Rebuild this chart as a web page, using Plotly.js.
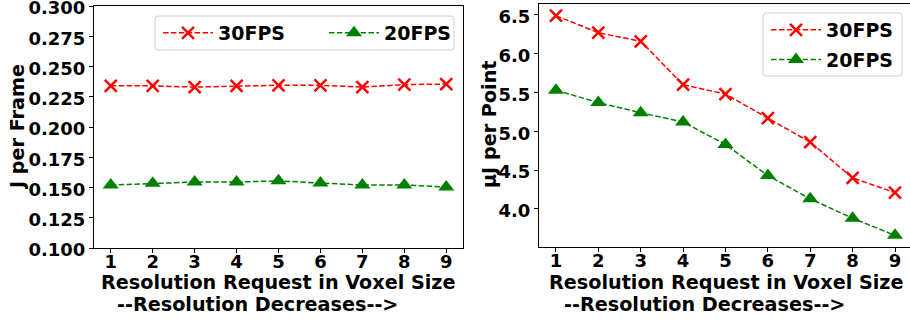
<!DOCTYPE html>
<html>
<head>
<meta charset="utf-8">
<script src="https://cdn.plot.ly/plotly-3.0.1.min.js"></script>
<style>html,body{margin:0;padding:0;background:#fff;}#chart{width:910px;height:321px;}</style>
</head>
<body>
<div id="chart"></div>
<script>
const resolution = [1, 2, 3, 4, 5, 6, 7, 8, 9];
const jPerFrame30 = [0.234, 0.234, 0.233, 0.234, 0.2345, 0.2345, 0.233, 0.235, 0.2355];
const jPerFrame20 = [0.152, 0.1535, 0.1545, 0.1545, 0.1555, 0.1537, 0.152, 0.152, 0.1505];
const ujPerPoint30 = [6.49, 6.27, 6.16, 5.60, 5.48, 5.17, 4.86, 4.40, 4.21];
const ujPerPoint20 = [5.53, 5.37, 5.24, 5.12, 4.83, 4.43, 4.13, 3.88, 3.66];
const seriesNames = ['30FPS', '20FPS'];
const xTitle1 = 'Resolution Request in Voxel Size';
const xTitle2 = '--Resolution Decreases-->';
const yTitleLeft = 'J per Frame';
const yTitleRight = 'μJ per Point';

const W = 910, H = 321;
const FONT = {family: 'DejaVu Sans', size: 18, weight: 'bold', color: 'black'};
const TFONT = {family: 'DejaVu Sans', size: 19.2, weight: 'bold', color: 'black'};
const LFONT = {family: 'DejaVu Sans', size: 19, weight: 'bold', color: 'black'};
const redStyle = {
  mode: 'lines+markers',
  line: {color: 'red', width: 1.5, dash: '5.5px,2.4px'},
  marker: {symbol: 'x-thin-open', size: 12, color: 'red', line: {color: 'red', width: 2.5}}
};
const greenStyle = {
  mode: 'lines+markers',
  line: {color: 'green', width: 1.5, dash: '5.5px,2.4px'},
  marker: {symbol: 'triangle-up', size: 14, color: 'green'}
};

const traces = [
  Object.assign({x: resolution, y: jPerFrame30, name: seriesNames[0], xaxis: 'x', yaxis: 'y', legend: 'legend'}, redStyle),
  Object.assign({x: resolution, y: jPerFrame20, name: seriesNames[1], xaxis: 'x', yaxis: 'y', legend: 'legend'}, greenStyle),
  Object.assign({x: resolution, y: ujPerPoint30, name: seriesNames[0], xaxis: 'x2', yaxis: 'y2', legend: 'legend2', legendgroup: 'r30'}, redStyle),
  Object.assign({x: resolution, y: ujPerPoint20, name: seriesNames[1], xaxis: 'x2', yaxis: 'y2', legend: 'legend2', legendgroup: 'r20'}, greenStyle)
];

function px(x) { return x / W; }
function py(y) { return 1 - y / H; }

const axisCommon = {
  showgrid: false, zeroline: false, showline: true, linecolor: 'black', linewidth: 1,
  ticks: 'outside', ticklen: 4, tickwidth: 1, tickcolor: 'black', tickfont: FONT,
  ticklabeloverflow: 'allow'
};

function ann(text, x, y, angle) {
  return {text: text, xref: 'paper', yref: 'paper', x: px(x), y: py(y), xanchor: 'center', yanchor: 'middle',
    showarrow: false, font: TFONT, textangle: angle || 0};
}
function roundRect(x0, y0, x1, y1, r) {
  const X0 = px(x0), X1 = px(x1), Y0 = py(y0), Y1 = py(y1);
  const rx = r / W, ry = r / H;
  const d = `M${X0 + rx},${Y0} L${X1 - rx},${Y0} Q${X1},${Y0} ${X1},${Y0 - ry} L${X1},${Y1 + ry} Q${X1},${Y1} ${X1 - rx},${Y1} ` +
            `L${X0 + rx},${Y1} Q${X0},${Y1} ${X0},${Y1 + ry} L${X0},${Y0 - ry} Q${X0},${Y0} ${X0 + rx},${Y0} Z`;
  return {type: 'path', xref: 'paper', yref: 'paper', path: d, line: {color: '#d0d0d0', width: 1}, fillcolor: 'rgba(255,255,255,0.8)', layer: 'above'};
}

const layout = {
  width: W, height: H,
  margin: {l: 0, r: 0, t: 0, b: 0},
  paper_bgcolor: 'white', plot_bgcolor: 'white',
  font: FONT,
  showlegend: true,
  xaxis: Object.assign({}, axisCommon, {domain: [px(94), px(463)], range: [0.6, 9.4], tickvals: resolution, mirror: true, anchor: 'y', ticklabelstandoff: -7}),
  yaxis: Object.assign({}, axisCommon, {domain: [py(248), py(6)], range: [0.1, 0.3], tickvals: [0.1, 0.125, 0.15, 0.175, 0.2, 0.225, 0.25, 0.275, 0.3], tickformat: '.3f', mirror: true, anchor: 'x', ticklabelshift: 2}),
  xaxis2: Object.assign({}, axisCommon, {domain: [px(539), 1], range: [0.6, 9.354], tickvals: resolution, mirror: true, anchor: 'y2', ticklabelstandoff: -7}),
  yaxis2: Object.assign({}, axisCommon, {domain: [py(247), py(4)], range: [3.51, 6.64], tickvals: [4.0, 4.5, 5.0, 5.5, 6.0, 6.5], tickformat: '.1f', anchor: 'x2', ticklabelshift: 2}),
  legend: {
    orientation: 'h', x: px(158), y: py(14), xanchor: 'left', yanchor: 'top',
    borderwidth: 0, bgcolor: 'rgba(0,0,0,0)',
    font: LFONT, entrywidth: 101, entrywidthmode: 'pixels', itemwidth: 50
  },
  legend2: {
    orientation: 'v', x: px(766), y: py(11), xanchor: 'left', yanchor: 'top',
    borderwidth: 0, bgcolor: 'rgba(0,0,0,0)',
    font: LFONT, itemwidth: 50, tracegroupgap: 2
  },
  shapes: [roundRect(155, 16, 454, 50, 3), roundRect(763, 13, 902, 76, 3)],
  annotations: [
    ann(xTitle1, 278, 282), ann(xTitle2, 257, 304),
    ann(xTitle1, 726, 282), ann(xTitle2, 704, 304),
    ann(yTitleLeft, 18, 127, -90), ann(yTitleRight, 490, 125, -90)
  ]
};

Plotly.newPlot('chart', traces, layout, {displayModeBar: false, staticPlot: true});
</script>
</body>
</html>
